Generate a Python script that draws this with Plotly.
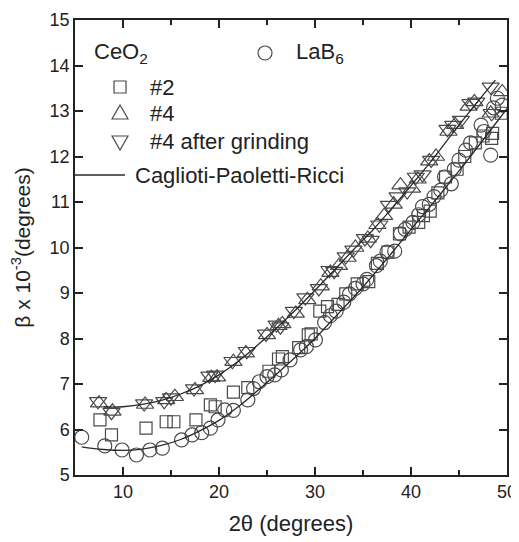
import plotly.graph_objects as go

# ---------------- data ----------------
lab6_x = [5.7, 8.1, 9.9, 11.4, 12.8, 14.1, 16.1, 17.2, 18.2, 19.1, 19.9, 20.6, 21.5, 23.0, 23.6, 24.2,
          25.0, 25.8, 26.5, 27.4, 28.5, 29.1, 30.05, 31.0, 31.6, 32.2, 33.0, 33.6, 34.2, 35.0, 35.4,
          36.4, 36.8, 37.5, 38.3, 38.9, 39.4, 40.2, 40.8, 41.2, 41.9, 42.4, 43.1, 43.5, 44.2, 44.5,
          45.0, 45.7, 46.2, 47.3, 47.6, 48.3, 48.6, 49.0, 49.5]
lab6_y = [5.83, 5.64, 5.55, 5.44, 5.55, 5.59, 5.77, 5.88, 5.93, 6.03, 6.21, 6.43, 6.42, 6.65, 6.9, 7.05,
          7.16, 7.2, 7.31, 7.53, 7.75, 7.82, 7.97, 8.35, 8.5, 8.6, 8.8, 8.98, 9.1, 9.2, 9.3,
          9.6, 9.7, 9.9, 9.92, 10.3, 10.4, 10.55, 10.72, 10.9, 10.95, 11.12, 11.26, 11.55, 11.4, 11.72,
          11.92, 12.14, 12.3, 12.69, 12.55, 12.03, 13.07, 13.28, 13.13]

s2_x = [7.6, 8.8, 12.4, 14.5, 15.3, 17.6, 19.1, 19.6, 21.5, 23.0, 25.2, 26.2, 26.6, 28.3, 29.3, 29.6,
        30.5, 31.3, 32.4, 33.2, 34.4, 35.6, 36.5, 37.6, 38.8, 39.8, 40.8, 41.3, 42.0, 42.8, 43.6,
        44.8, 45.6, 46.7, 47.5, 48.4, 48.5, 49.4]
s2_y = [6.21, 5.88, 6.03, 6.17, 6.17, 6.21, 6.54, 6.5, 6.82, 6.92, 7.28, 7.55, 7.6, 7.8, 8.08, 8.1,
        8.6, 8.7, 8.75, 8.98, 9.2, 9.25, 9.65, 9.9, 10.3, 10.45, 10.55, 10.7, 10.8, 11.2, 11.55,
        11.72, 12.0, 12.3, 12.45, 12.4, 12.51, 12.95]

s4_x = [7.5, 8.9, 12.3, 14.5, 15.4, 17.5, 19.2, 19.8, 21.5, 22.8, 25.0, 26.2, 26.6, 28.0, 29.2, 30.6,
        31.6, 32.5, 33.4, 34.2, 35.5, 36.5, 37.2, 38.2, 38.9, 40.1, 40.7, 41.9, 42.6, 43.9, 44.6,
        46.0, 46.6, 48.3, 49.5]
s4_y = [6.58, 6.4, 6.55, 6.65, 6.72, 6.87, 7.14, 7.15, 7.49, 7.68, 8.08, 8.28, 8.32, 8.55, 8.85, 9.15,
        9.45, 9.6, 9.78, 10.0, 10.2, 10.5, 10.7, 10.95, 11.37, 11.3, 11.5, 11.9, 12.0, 12.55, 12.7,
        13.1, 13.2, 12.95, 13.42]

s4g_x = [7.4, 8.8, 12.2, 14.3, 15.0, 17.4, 19.0, 19.6, 21.4, 22.9, 24.9, 26.0, 26.4, 27.8, 29.0, 30.4,
         31.5, 32.0, 33.2, 34.0, 35.2, 35.8, 36.7, 37.7, 38.6, 39.6, 40.5, 41.2, 42.1, 43.8, 44.4,
         45.2, 46.2, 46.8, 48.3, 48.4]
s4g_y = [6.62, 6.38, 6.57, 6.62, 6.7, 6.9, 7.18, 7.2, 7.5, 7.72, 8.1, 8.3, 8.26, 8.6, 8.9, 9.1,
         9.5, 9.48, 9.8, 9.95, 10.2, 10.16, 10.5, 10.93, 11.12, 11.23, 11.55, 11.6, 11.92, 12.6, 12.69,
         12.8, 13.17, 13.2, 13.53, 12.95]

fit_ceo2_x = [8, 9, 10, 12, 14, 16, 18, 20, 22, 24, 26, 28, 30, 32, 34, 36, 38, 40, 42, 44, 46, 48, 48.8]
fit_ceo2_y = [6.5, 6.49, 6.5, 6.55, 6.64, 6.78, 6.96, 7.2, 7.5, 7.85, 8.23, 8.63, 9.06, 9.5, 9.95,
              10.38, 10.86, 11.36, 11.87, 12.42, 12.96, 13.48, 13.68]

fit_lab6_x = [5.7, 7, 8, 10, 12, 14, 16, 18, 20, 22, 24, 26, 28, 30, 32, 34, 36, 38, 40, 42, 44, 46, 48, 50]
fit_lab6_y = [5.62, 5.58, 5.56, 5.54, 5.57, 5.65, 5.78, 5.97, 6.2, 6.5, 6.85, 7.22, 7.6, 8.0, 8.45,
              8.9, 9.38, 9.88, 10.4, 10.9, 11.42, 11.95, 12.5, 13.05]

x_ticks = [10, 20, 30, 40, 50]
y_ticks = [5, 6, 7, 8, 9, 10, 11, 12, 13, 14, 15]

FONT = "Liberation Sans, Arial, sans-serif"
MK = "#4a4a4a"
LN = "#2a2a2a"

fig = go.Figure()


def pts(x, y, sym, size):
    fig.add_trace(go.Scatter(x=x, y=y, mode="markers", showlegend=False,
                             marker=dict(symbol=sym, size=size, color=MK,
                                         line=dict(color=MK, width=1.2))))


pts(lab6_x, lab6_y, "circle-open", 14)
pts(s2_x, s2_y, "square-open", 12)
pts(s4_x, s4_y, "triangle-up-open", 15)
pts(s4g_x, s4g_y, "triangle-down-open", 15)

for fx, fy in [(fit_ceo2_x, fit_ceo2_y), (fit_lab6_x, fit_lab6_y)]:
    fig.add_trace(go.Scatter(x=fx, y=fy, mode="lines", showlegend=False,
                             line=dict(color=LN, width=1.3, shape="spline", smoothing=0.6)))

# ---------------- custom legend ----------------
shapes = []
def mshape(xp, yp, path=None, kind=None, r=6):
    d = dict(xref="paper", yref="paper", xsizemode="pixel", ysizemode="pixel",
             xanchor=xp, yanchor=yp, line=dict(color=MK, width=1.2))
    if path:
        d.update(type="path", path=path)
    else:
        d.update(type=kind, x0=-r, x1=r, y0=-r, y1=r)
    shapes.append(d)

mshape(0.4398, 0.9275, kind="circle", r=7)
mshape(0.1042, 0.8527, kind="rect", r=6)
mshape(0.1042, 0.7956, path="M -8,-6 L 8,-6 L 0,8 Z")
mshape(0.1042, 0.7319, path="M -8,6 L 8,6 L 0,-8 Z")
shapes.append(dict(type="line", xref="paper", yref="paper", x0=0, x1=0.1157, y0=0.6593, y1=0.6593,
                   line=dict(color=LN, width=1.3)))

ann = []
def txt(xp, yp, t):
    ann.append(dict(x=xp, y=yp, xref="paper", yref="paper", text=t, showarrow=False,
                    xanchor="left", yanchor="middle", font=dict(family=FONT, size=22, color="#222")))

txt(0.040, 0.9275, "CeO<sub>2</sub>")
txt(0.508, 0.9275, "LaB<sub>6</sub>")
txt(0.170, 0.8527, "#2")
txt(0.170, 0.7956, "#4")
txt(0.170, 0.7319, "#4 after grinding")
txt(0.134, 0.6593, "Caglioti-Paoletti-Ricci")

axis_common = dict(showline=True, linecolor="#222", linewidth=1.5, mirror="ticks", ticks="inside",
                   tickcolor="#222", tickwidth=1.5, showgrid=False, zeroline=False, automargin=False,
                   tickfont=dict(family=FONT, size=18, color="#222"))

# page body has an 8px default margin, so the figure is 8px smaller and margins compensate
fig.update_layout(
    width=511, height=534,
    margin=dict(l=67, r=12, t=12, b=67),
    paper_bgcolor="white", plot_bgcolor="white",
    shapes=shapes, annotations=ann,
    xaxis=dict(range=[5, 50], tickvals=x_ticks, ticklen=8,
               minor=dict(dtick=5, tick0=5, ticks="inside", ticklen=5, tickcolor="#222", tickwidth=1.5),
               title=dict(text="2θ (degrees)", font=dict(family=FONT, size=22, color="#222"), standoff=14),
               **axis_common),
    yaxis=dict(range=[5, 15], tickvals=y_ticks, ticklen=8,
               title=dict(text="β x 10<sup>-3</sup>(degrees)", font=dict(family=FONT, size=21, color="#222"),
                          standoff=14),
               **axis_common),
)

fig.write_html("out.html")
